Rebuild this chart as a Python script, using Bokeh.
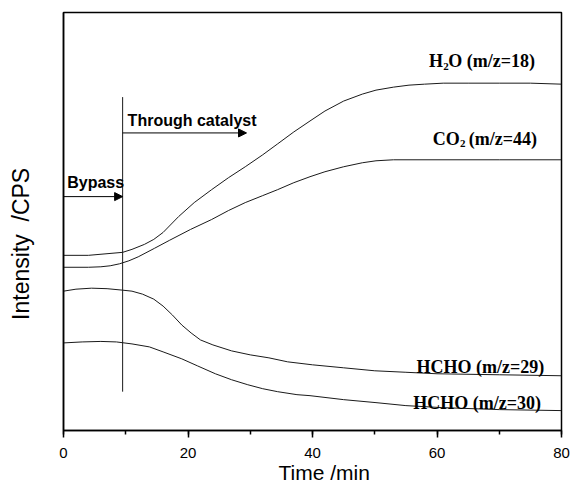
from bokeh.plotting import figure
from bokeh.models import Range1d, SingleIntervalTicker, FixedTicker, Arrow, NormalHead
from bokeh.core.properties import value
from bokeh.embed import file_html
from bokeh.resources import INLINE

# ---- data (time in min, intensity in arbitrary units) ----
t_h2o = [0, 4, 9.5, 11, 13, 14.5, 16, 18.5, 21, 23.8, 26.5, 29.2, 32, 34.4, 37, 39.6,
         42, 45, 48, 50.2, 53, 55.5, 58, 61, 65, 70, 75, 80]
i_h2o = [176, 176, 179, 182, 187, 192, 199, 215, 229, 242, 254, 265, 277, 288, 300, 311,
         321, 331, 338, 342, 345, 347, 348, 349, 349, 349, 349, 348]

t_co2 = [0, 4, 6, 7.5, 9, 10.5, 12, 14.6, 17, 20.4, 23.8, 26.5, 29.2, 32, 34.4, 37,
         39.6, 42, 45, 48, 50.2, 53, 60, 70, 80]
i_co2 = [164, 164, 164.5, 165.5, 167.5, 170.5, 174.5, 183, 191, 202, 212, 221, 229, 236, 242, 249,
         255, 260, 265, 269, 271, 272, 272, 272, 272]

t_hcho29 = [0, 2, 4.5, 7, 9.5, 11, 12.7, 14.5, 16, 17.5, 19, 20.5, 22, 24, 27, 30, 33,
            36, 40, 45, 50, 55, 60, 70, 80]
i_hcho29 = [140, 142, 143, 142.5, 141, 140, 137, 132, 125, 116, 106, 98, 91, 86, 80, 76, 73,
            69, 66, 63, 60, 58.5, 57, 56, 55]

t_hcho30 = [0, 3, 6, 8.5, 11, 13.8, 16, 19, 21.5, 24.4, 27, 29.6, 32, 34.4, 37.5, 39.6,
            45, 50.2, 55, 60.8, 70, 80]
i_hcho30 = [88, 89, 89.5, 89, 87, 84, 79, 72, 65, 57, 51, 46, 42, 39, 36, 35,
            31, 28, 25, 23, 21, 20]

x_ticks_interval = 20
switch_time = 9.5          # gas switched from bypass to catalyst
switch_line_y = [39, 335]
bypass_arrow = dict(x0=0, x1=9.5, y=235)
through_arrow = dict(x0=9.5, x1=29.4, y=299)

NB = "\u00a0"

# ---- figure ----
p = figure(width=570, height=489, output_backend="svg", toolbar_location=None,
           x_range=Range1d(0, 80), y_range=Range1d(0, 420),
           min_border_left=63, min_border_right=9, min_border_top=12, min_border_bottom=59,
           background_fill_color="white", border_fill_color="white")
p.xgrid.visible = False
p.ygrid.visible = False
p.outline_line_color = "black"
p.outline_line_width = 1.5

xa = p.xaxis[0]
xa.ticker = SingleIntervalTicker(interval=x_ticks_interval, num_minor_ticks=2)
xa.major_tick_out = 7
xa.major_tick_in = 0
xa.minor_tick_out = 4
xa.minor_tick_in = 0
xa.axis_line_width = 1.5
xa.major_tick_line_width = 1.5
xa.minor_tick_line_width = 1.5
xa.major_label_text_font = "Liberation Sans"
xa.major_label_text_font_size = "15px"
xa.major_label_text_color = "black"
xa.major_label_standoff = 10
xa.axis_label = NB * 4 + "Time /min"
xa.axis_label_text_font = "Liberation Sans"
xa.axis_label_text_font_style = "normal"
xa.axis_label_text_font_size = "21px"
xa.axis_label_text_color = "black"
xa.axis_label_standoff = 0

ya = p.yaxis[0]
ya.ticker = FixedTicker(ticks=[])
ya.axis_line_width = 1.5
ya.axis_label = "Intensity " + NB + "/CPS" + NB * 7
ya.axis_label_text_font = "Liberation Sans"
ya.axis_label_text_font_style = "normal"
ya.axis_label_text_font_size = "23px"
ya.axis_label_text_color = "black"
ya.axis_label_standoff = 30

# ---- curves ----
for t, v in [(t_h2o, i_h2o), (t_co2, i_co2), (t_hcho29, i_hcho29), (t_hcho30, i_hcho30)]:
    p.line(t, v, line_color="#1a1a1a", line_width=1)

# switch marker & arrows
p.segment(x0=[switch_time], y0=[switch_line_y[0]], x1=[switch_time], y1=[switch_line_y[1]],
          line_color="#1a1a1a", line_width=1)
for a in (bypass_arrow, through_arrow):
    p.add_layout(Arrow(end=NormalHead(size=8, fill_color="black", line_color="black", line_width=1),
                       x_start=a["x0"], y_start=a["y"], x_end=a["x1"], y_end=a["y"],
                       line_color="black", line_width=1))

sans = value("Liberation Sans")
serif = value("Liberation Serif")

p.text(x=[0.6], y=[249], text=["Bypass"], text_font=sans, text_font_size="16px",
       text_font_style="bold", text_color="black", text_baseline="alphabetic")
p.text(x=[10.3], y=[311], text=["Through catalyst"], text_font=sans, text_font_size="16px",
       text_font_style="bold", text_color="black", text_baseline="alphabetic")

def rich(pieces):
    # pieces: (x, y, text, size)
    for x, y, s, fs in pieces:
        p.text(x=[x], y=[y], text=[s], text_font=serif, text_font_size=fs,
               text_font_style="bold", text_color="black", text_baseline="alphabetic")

rich([(58.7, 371, "H", "18px"), (61.0, 366, "2", "11px"), (61.8, 371, "O (m/z=18)", "18px")])
rich([(59.3, 293, "CO", "18px"), (63.7, 288, "2", "11px"), (65.1, 293, "(m/z=44)", "18px")])
rich([(56.7, 64, "HCHO (m/z=29)", "18px")])
rich([(56.2, 28, "HCHO (m/z=30)", "18px")])

open("out.html", "w").write(file_html(p, INLINE))
